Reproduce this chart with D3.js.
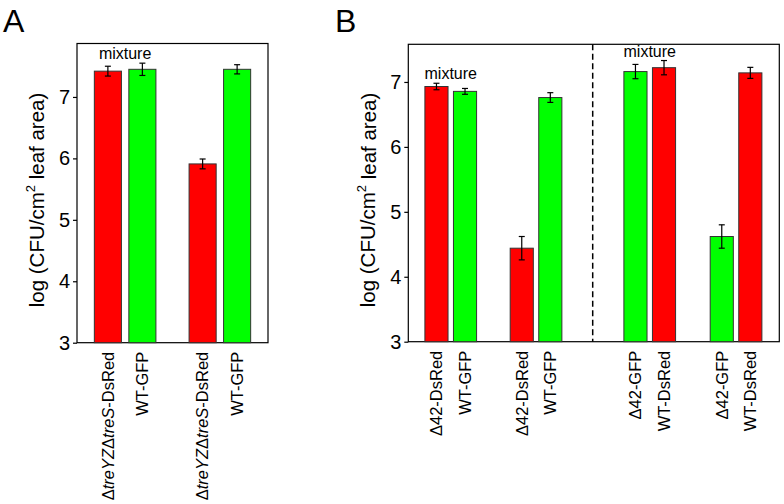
<!DOCTYPE html>
<html lang="en">
<head>
<meta charset="UTF-8">
<title>CFU bars</title>
<style>
  body { margin: 0; background: #fff; }
  text { font-family: Arial, "Liberation Sans", sans-serif; fill: #000; }
</style>
</head>
<body>
<script src="https://d3js.org/d3.v7.min.js"></script>
<script>
// data (log CFU/cm2 leaf area)
var labelsA = ["\u0394*treYZ*\u0394*treS*-DsRed", "WT-GFP", "\u0394*treYZ*\u0394*treS*-DsRed", "WT-GFP"];
var valuesA = [7.42, 7.45, 5.91, 7.45];
var errorsA = [0.08, 0.10, 0.08, 0.075];
var colorsA = ["red", "green", "red", "green"];
var groupsA = [0, 0, 1, 1];

var labelsB = ["\u039442-DsRed", "WT-GFP", "\u039442-DsRed", "WT-GFP",
               "\u039442-GFP", "WT-DsRed", "\u039442-GFP", "WT-DsRed"];
var valuesB = [6.93, 6.855, 4.44, 6.76, 7.16, 7.22, 4.62, 7.14];
var errorsB = [0.05, 0.045, 0.18, 0.075, 0.11, 0.11, 0.18, 0.085];
var colorsB = ["red", "green", "red", "green", "green", "red", "green", "red"];
var groupsB = [0, 0, 1, 1, 2, 2, 3, 3];

var yTicks = [3, 4, 5, 6, 7];
var mixtureGroupsA = [0];
var mixtureGroupsB = [0, 2];

var fill = { red: "#ff0000", green: "#00ff00" };

var width = 784, height = 504;
var svg = d3.select("body").append("svg").attr("width", width).attr("height", height);

function drawPanel(p) {
    var g = svg.append("g");
    var y = d3.scaleLinear().domain(p.yDomain).range([p.bottom, p.top]);

    // frame
    g.append("rect")
        .attr("x", p.left).attr("y", p.top)
        .attr("width", p.right - p.left).attr("height", p.bottom - p.top)
        .attr("fill", "none").attr("stroke", "#000").attr("stroke-width", 1.2);

    // y axis
    var ax = g.append("g")
        .attr("transform", "translate(" + p.left + ",0)")
        .call(d3.axisLeft(y).tickValues(yTicks).tickSize(4).tickPadding(3).tickFormat(d3.format("d")));
    ax.select(".domain").remove();
    ax.selectAll(".tick line").attr("stroke", "#000").attr("stroke-width", 1.2);
    ax.selectAll(".tick text").attr("font-size", 20).attr("font-family", "Arial, 'Liberation Sans', sans-serif");

    // y label
    var yl = g.append("text")
        .attr("transform", "translate(" + (p.left - 40) + "," + 200 + ") rotate(-90)")
        .attr("text-anchor", "middle").attr("dy", "0.35em").attr("font-size", 20.5);
    yl.append("tspan").text("log (CFU/cm");
    yl.append("tspan").attr("font-size", 13).attr("dy", "-0.7em").text("2");
    yl.append("tspan").attr("dy", "0.45em").text(" leaf area)");

    // bars
    var idx = d3.range(p.values.length);
    var inner = d3.scaleBand().domain([0, 1]).range([0, p.groupX.bandwidth]).paddingInner(p.innerPad);
    function barX(i) { return p.groupX.x(p.groups[i]) + inner(i % 2); }

    g.selectAll("rect.bar").data(idx).enter().append("rect")
        .attr("class", "bar")
        .attr("x", barX)
        .attr("y", function (i) { return y(p.values[i]); })
        .attr("width", inner.bandwidth())
        .attr("height", function (i) { return y(p.yDomain[0]) - y(p.values[i]); })
        .attr("fill", function (i) { return fill[p.colors[i]]; })
        .attr("stroke", "#333").attr("stroke-width", 1);

    // error bars
    var eb = g.selectAll("g.err").data(idx).enter().append("g").attr("class", "err")
        .attr("stroke", "#000").attr("stroke-width", 1.2);
    eb.append("line")
        .attr("x1", function (i) { return barX(i) + inner.bandwidth() / 2; })
        .attr("x2", function (i) { return barX(i) + inner.bandwidth() / 2; })
        .attr("y1", function (i) { return y(p.values[i] + p.errors[i]); })
        .attr("y2", function (i) { return y(p.values[i] - p.errors[i]); });
    [1, -1].forEach(function (s) {
        eb.append("line")
            .attr("x1", function (i) { return barX(i) + inner.bandwidth() / 2 - 3; })
            .attr("x2", function (i) { return barX(i) + inner.bandwidth() / 2 + 3; })
            .attr("y1", function (i) { return y(p.values[i] + s * p.errors[i]); })
            .attr("y2", function (i) { return y(p.values[i] + s * p.errors[i]); });
    });

    // x labels
    var xl = g.selectAll("text.xl").data(idx).enter().append("text")
        .attr("class", "xl")
        .attr("transform", function (i) {
            return "translate(" + (barX(i) + inner.bandwidth() / 2) + "," + (p.bottom + 9) + ") rotate(-90)";
        })
        .attr("text-anchor", "end").attr("dy", "0.35em").attr("font-size", 16.5);
    xl.each(function (i) {
        var t = d3.select(this);
        p.labels[i].split("*").forEach(function (part, k) {
            if (part === "") return;
            t.append("tspan").attr("font-style", k % 2 ? "italic" : "normal").text(part);
        });
    });

    // "mixture"
    p.mixture.forEach(function (gi) {
        var members = idx.filter(function (i) { return p.groups[i] === gi; });
        var topVal = d3.max(members, function (i) { return p.values[i] + p.errors[i]; });
        g.append("text")
            .attr("x", p.groupX.x(gi) + p.groupX.bandwidth / 2)
            .attr("y", y(topVal) - 4)
            .attr("text-anchor", "middle").attr("font-size", 16).text("mixture");
    });

    // panel letter
    g.append("text").attr("x", p.letterX).attr("y", 32).attr("font-size", 32).text(p.letter);

    return y;
}

// panel A: one band scale for the two groups
var bandA = d3.scaleBand().domain([0, 1]).range([77, 268]).paddingInner(0.35).paddingOuter(0.183);
drawPanel({
    letter: "A", letterX: 3,
    left: 77, right: 268, top: 43.5, bottom: 342.7, yDomain: [3, 7.87],
    values: valuesA, errors: errorsA, colors: colorsA, groups: groupsA, labels: labelsA,
    groupX: { x: bandA, bandwidth: bandA.bandwidth() }, innerPad: 0.215,
    mixture: mixtureGroupsA
});

// panel B: two halves split by a dashed line
var splitB = 592.7;
var bandB1 = d3.scaleBand().domain([0, 1]).range([408.3, splitB]).paddingInner(0.394).paddingOuter(0.278).align(0.35);
var bandB2 = d3.scaleBand().domain([2, 3]).range([splitB, 779.3]).paddingInner(0.394).paddingOuter(0.278).align(0.65);
var yB = drawPanel({
    letter: "B", letterX: 335,
    left: 408.3, right: 779.3, top: 44.3, bottom: 341.7, yDomain: [3, 7.58],
    values: valuesB, errors: errorsB, colors: colorsB, groups: groupsB, labels: labelsB,
    groupX: { x: function (gi) { return gi < 2 ? bandB1(gi) : bandB2(gi); }, bandwidth: bandB1.bandwidth() },
    innerPad: 0.19,
    mixture: mixtureGroupsB
});

svg.append("line")
    .attr("x1", splitB).attr("x2", splitB)
    .attr("y1", yB.range()[1]).attr("y2", yB.range()[0])
    .attr("stroke", "#000").attr("stroke-width", 1.5).attr("stroke-dasharray", "6,3.5");
</script>
</body>
</html>
